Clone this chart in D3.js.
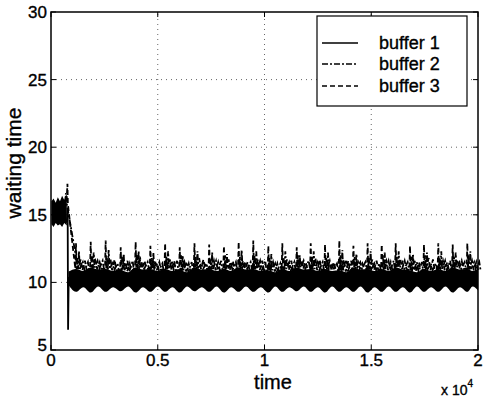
<!DOCTYPE html>
<html>
<head>
<meta charset="utf-8">
<script src="https://d3js.org/d3.v7.min.js"></script>
<style>
  body { margin: 0; background: #fff; }
  svg { display: block; font-family: "Liberation Sans", Arial, sans-serif; }
  text { stroke: #000; stroke-width: 0.35; }
</style>
</head>
<body>
<div id="chart"></div>
<script>
// ---- data ----
var xTicks = [0, 5000, 10000, 15000, 20000];
var xTickLabels = ["0", "0.5", "1", "1.5", "2"];
var yTicks = [5, 10, 15, 20, 25, 30];

// start-up phase (t < 800), all buffers near 15
var initT   = [20, 120, 220, 320, 420, 520, 620, 740];
var initHi  = [16.0, 16.2, 15.9, 16.3, 16.0, 16.4, 16.1, 16.5];
var initLo  = [14.3, 14.1, 14.4, 14.2, 14.3, 14.1, 14.4, 14.2];
// buffer 1 falls to its minimum just after start-up
var dropT = [740, 780, 800, 830];
var dropV = [14.4, 15.5, 6.5, 10.4];

// periodic regime: times of each spike
var spikeT = [1170, 1860, 2560, 3265, 3965, 4655, 5345, 6030, 6720, 7410, 8100, 8790, 9475, 10180,
              10835, 11510, 12165, 12835, 13505, 14165, 14830, 15490, 16145, 16815, 17470, 18140, 18815, 19500];
// band bottom at spike and between spikes, band top
var bandBot = [9.3, 9.25, 9.3, 9.35, 9.25, 9.3, 9.3, 9.25, 9.35, 9.3, 9.25, 9.3, 9.3, 9.25,
               9.3, 9.35, 9.3, 9.25, 9.3, 9.3, 9.25, 9.3, 9.3, 9.25, 9.3, 9.3, 9.25, 9.3];
var bandMid = [9.65, 9.7, 9.65, 9.7, 9.65, 9.7, 9.65, 9.7, 9.65, 9.7, 9.65, 9.7, 9.65, 9.7,
               9.65, 9.7, 9.65, 9.7, 9.65, 9.7, 9.65, 9.7, 9.65, 9.7, 9.65, 9.7, 9.65, 9.7];
var bandTop = [11.0, 11.1, 11.0, 10.9, 11.1, 11.0, 11.0, 10.9, 11.1, 11.0, 11.0, 11.1, 11.0, 10.9,
               11.0, 11.1, 11.0, 11.0, 10.9, 11.1, 11.0, 11.0, 11.1, 10.9, 11.0, 11.0, 11.1, 11.0];
// buffer 3 (dashed) spike peaks, shoulder and minor humps
var peak3 = [12.9, 13.0, 13.1, 12.6, 13.0, 12.7, 12.9, 12.6, 12.9, 12.8, 12.7, 13.0, 13.1, 12.7,
             12.9, 12.6, 12.9, 12.8, 13.1, 12.7, 12.9, 12.8, 12.9, 12.7, 12.8, 12.9, 12.8, 12.9];
var shoulder3 = [11.9, 12.0, 11.8, 11.9, 12.1, 11.8, 11.9, 12.0, 11.9, 11.8, 12.0, 11.9, 12.0, 11.8,
                 11.9, 12.0, 11.9, 11.8, 12.0, 11.9, 11.8, 12.0, 11.9, 11.9, 12.0, 11.8, 11.9, 12.0];
var hump3 = [11.7, 11.6, 11.8, 11.5, 11.7, 11.6, 11.7, 11.5, 11.8, 11.6, 11.7, 11.6, 11.7, 11.5,
             11.7, 11.6, 11.8, 11.6, 11.7, 11.5, 11.7, 11.6, 11.7, 11.6, 11.8, 11.6, 11.7, 11.6];
// buffer 2 (dash-dot) secondary spikes and humps
var peak2 = [12.3, 12.2, 12.4, 12.1, 12.3, 12.2, 12.3, 12.0, 12.3, 12.2, 12.1, 12.4, 12.3, 12.1,
             12.3, 12.0, 12.3, 12.2, 12.4, 12.1, 12.3, 12.2, 12.3, 12.1, 12.2, 12.3, 12.2, 12.3];
var hump2 = [11.5, 11.6, 11.4, 11.6, 11.5, 11.4, 11.6, 11.5, 11.4, 11.6, 11.5, 11.5, 11.6, 11.4,
             11.5, 11.6, 11.5, 11.4, 11.6, 11.5, 11.4, 11.6, 11.5, 11.5, 11.4, 11.6, 11.5, 11.5];
// start-up spikes of buffer 3 and 2
var initSpike3 = [[730, 16.0], [770, 17.3], [790, 15.8]];
var initSpike2 = [[660, 15.9], [700, 16.6], [730, 15.9]];

var W = 483, H = 401;
var x = d3.scaleLinear().domain([0, 20000]).range([51, 478]);
var y = d3.scaleLinear().domain([5, 30]).range([350, 12]);

var svg = d3.select("#chart").append("svg").attr("width", W).attr("height", H);

// grid
var grid = svg.append("g").attr("stroke", "#666").attr("stroke-width", 1).attr("stroke-dasharray", "1,4");
grid.selectAll(".gx").data(xTicks.slice(1, -1)).enter().append("line")
    .attr("x1", function(d) { return x(d); }).attr("x2", function(d) { return x(d); })
    .attr("y1", y(5)).attr("y2", y(30));
grid.selectAll(".gy").data(yTicks.slice(1, -1)).enter().append("line")
    .attr("y1", function(d) { return y(d); }).attr("y2", function(d) { return y(d); })
    .attr("x1", x(0)).attr("x2", x(20000));

var plot = svg.append("g");

// start-up block
var initPts = initT.map(function(t, i) { return {t: t, lo: initLo[i], hi: initHi[i]}; });
plot.append("path").datum(initPts)
    .attr("fill", "#000")
    .attr("d", d3.area().x(function(d) { return x(d.t); })
        .y0(function(d) { return y(d.lo); }).y1(function(d) { return y(d.hi); }));

// periodic band
var band = [{t: 820, lo: 9.8, hi: 10.8}];
spikeT.forEach(function(t, i) {
    band.push({t: t, lo: bandBot[i], hi: bandTop[i]});
    var next = i < spikeT.length - 1 ? spikeT[i + 1] : 20000;
    band.push({t: (t + next) / 2, lo: bandMid[i], hi: bandTop[i] - 0.15});
});
band.push({t: 20000, lo: 9.4, hi: 11.0});
plot.append("path").datum(band)
    .attr("fill", "#000")
    .attr("d", d3.area().curve(d3.curveMonotoneX).x(function(d) { return x(d.t); })
        .y0(function(d) { return y(d.lo); }).y1(function(d) { return y(d.hi); }));

var line = d3.line().x(function(d) { return x(d[0]); }).y(function(d) { return y(d[1]); });

// buffer 1 drop
plot.append("path").datum(dropT.map(function(t, i) { return [t, dropV[i]]; }))
    .attr("fill", "none").attr("stroke", "#000").attr("stroke-width", 1.8).attr("d", line);

// buffer 3
var s3 = initSpike3.slice();
spikeT.forEach(function(t, i) {
    s3.push([t - 30, bandTop[i]], [t, peak3[i]], [t + 30, bandTop[i]],
            [t + 60, shoulder3[i]], [t + 90, bandTop[i]],
            [t + 220, hump3[i]], [t + 300, bandTop[i] - 0.1],
            [t + 420, hump3[i] - 0.1], [t + 500, bandTop[i] - 0.1]);
});
plot.append("path").datum(s3)
    .attr("fill", "none").attr("stroke", "#000").attr("stroke-width", 1.8)
    .attr("stroke-dasharray", "5,3").attr("d", line);

// buffer 2
var s2 = initSpike2.slice();
spikeT.forEach(function(t, i) {
    s2.push([t + 100, bandTop[i]], [t + 140, peak2[i]], [t + 180, bandTop[i]],
            [t + 320, hump2[i]], [t + 400, bandTop[i] - 0.1],
            [t + 560, hump2[i]], [t + 620, bandTop[i] - 0.1]);
});
plot.append("path").datum(s2)
    .attr("fill", "none").attr("stroke", "#000").attr("stroke-width", 1.8)
    .attr("stroke-dasharray", "6,2,2,2").attr("d", line);

// axes box and ticks
svg.append("rect").attr("x", x(0)).attr("y", y(30))
    .attr("width", x(20000) - x(0)).attr("height", y(5) - y(30))
    .attr("fill", "none").attr("stroke", "#000").attr("stroke-width", 1.5);

var tk = svg.append("g").attr("stroke", "#000").attr("stroke-width", 1);
xTicks.forEach(function(d) {
    tk.append("line").attr("x1", x(d)).attr("x2", x(d)).attr("y1", y(5)).attr("y2", y(5) - 5);
    tk.append("line").attr("x1", x(d)).attr("x2", x(d)).attr("y1", y(30)).attr("y2", y(30) + 5);
});
yTicks.forEach(function(d) {
    tk.append("line").attr("y1", y(d)).attr("y2", y(d)).attr("x1", x(0)).attr("x2", x(0) + 5);
    tk.append("line").attr("y1", y(d)).attr("y2", y(d)).attr("x1", x(20000)).attr("x2", x(20000) - 5);
});

// tick labels
svg.selectAll(".xl").data(xTicks).enter().append("text")
    .attr("x", function(d) { return x(d); }).attr("y", 366)
    .attr("text-anchor", "middle").attr("font-size", 17)
    .text(function(d, i) { return xTickLabels[i]; });
svg.selectAll(".yl").data(yTicks).enter().append("text")
    .attr("x", 47).attr("y", function(d) { return d === 5 ? y(d) + 1 : y(d) + 6; })
    .attr("text-anchor", "end").attr("font-size", 17)
    .text(function(d) { return d; });

// axis titles
svg.append("text").attr("x", 273).attr("y", 389).attr("text-anchor", "middle")
    .attr("font-size", 20).text("time");
svg.append("text").attr("transform", "translate(21,163) rotate(-90)")
    .attr("text-anchor", "middle").attr("font-size", 21).text("waiting time");
var ex = svg.append("text").attr("x", 441).attr("y", 395).attr("font-size", 14);
ex.append("tspan").text("x 10");
ex.append("tspan").attr("dy", -8).attr("font-size", 10).text("4");

// legend
var legNames = ["buffer 1", "buffer 2", "buffer 3"];
var legDash = [null, "6,2,2,2", "5,3"];
var legY = [43, 64, 86];
svg.append("rect").attr("x", 317).attr("y", 16).attr("width", 150).attr("height", 90)
    .attr("fill", "#fff").attr("stroke", "#000").attr("stroke-width", 1.2);
var leg = svg.selectAll(".leg").data(legNames).enter().append("g");
leg.append("line").attr("x1", 322).attr("x2", 358)
    .attr("y1", function(d, i) { return legY[i]; }).attr("y2", function(d, i) { return legY[i]; })
    .attr("stroke", "#000").attr("stroke-width", 1.6)
    .attr("stroke-dasharray", function(d, i) { return legDash[i]; });
leg.append("text").attr("x", 379).attr("y", function(d, i) { return legY[i] + 6; })
    .attr("font-size", 18).text(function(d) { return d; });
</script>
</body>
</html>
